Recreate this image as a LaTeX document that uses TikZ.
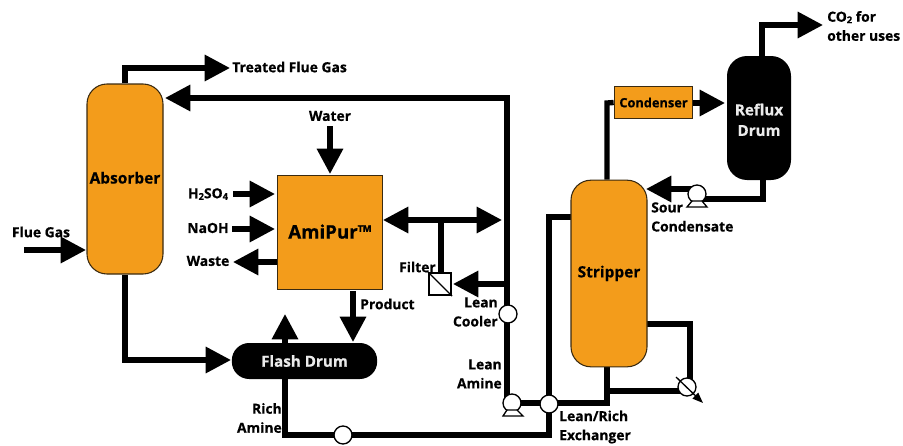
\documentclass[tikz,border=0pt]{standalone}
\usepackage{fontspec}
\setmainfont{Open Sans}[BoldFeatures={FakeBold=0.6}]
\usetikzlibrary{arrows.meta,backgrounds}
\definecolor{vessel}{HTML}{F39C1B}
\definecolor{edgeb}{HTML}{3A2A10}
\newcommand{\lowdigit}[1]{\raisebox{-0.2ex}{\fontsize{7}{7}\selectfont #1}}
\tikzset{
  lbl/.style={font=\fontsize{10.4}{14.3}\selectfont\bfseries, text=black, inner sep=0pt, align=center},
  vesselbox/.style={draw=edgeb, line width=0.8pt, fill=vessel, inner sep=0pt, font=\fontsize{11.6}{13}\selectfont\bfseries, text=black, anchor=center},
  drum/.style={fill=black, inner sep=0pt, text=white!92!black, align=center, font=\fontsize{11.4}{15.5}\selectfont\bfseries},
  pipe/.style={line width=4pt, draw=black, line join=miter},
  flow/.style={pipe, -{Triangle[length=19pt, width=19pt]}},
  flowback/.style={pipe, {Triangle[length=19pt, width=19pt]}-{Triangle[length=19pt, width=19pt]}},
  exch/.style={circle, draw=black, line width=1pt, fill=white, minimum size=13.5pt, inner sep=0pt},
}
\begin{document}
\begin{tikzpicture}[x=0.75pt,y=-0.75pt]
\useasboundingbox (0,0) rectangle (903,446);
% vessels
\node[vesselbox, rounded corners=15pt, minimum width=57pt, minimum height=142.5pt] (absorber) at (125,179) {\raisebox{2pt}{Absorber}};
\node[vesselbox, minimum width=79pt, minimum height=86pt, font=\fontsize{14}{15}\selectfont\bfseries] (amipur) at (330,232.5) {\raisebox{1.5pt}{AmiPur™}};
\node[drum, rounded corners=13pt, minimum width=109pt, minimum height=27pt] (flash) at (304.5,361) {Flash Drum};
\node[vesselbox, rounded corners=15pt, minimum width=57pt, minimum height=140pt] (stripper) at (609,273.5) {\raisebox{3pt}{Stripper}};
\node[vesselbox, minimum width=59pt, minimum height=24.5pt, font=\fontsize{9.6}{11}\selectfont\bfseries] (condenser) at (653.5,102.5) {Condenser};
\node[drum, rounded corners=15pt, minimum width=48pt, minimum height=93pt] (reflux) at (759,118) {\rule{0pt}{11.5pt}Reflux\\Drum};
% exchangers and pumps
\node[exch] (cooler) at (508,314) {};
\node[exch] (leanrich) at (549,404) {};
\node[exch] (richx) at (343,435) {};
\node[exch] (reboil) at (687,387) {};
\node[exch] (leanpump) at (512,403) {};
\node[exch] (sourpump) at (697,194) {};
% filter
\node[draw=black, line width=1.6pt, fill=white, minimum size=16.5pt, inner sep=0pt] (filter) at (440,284) {};
\draw[line width=1pt] (filter.north west) -- (filter.south east);
% pump bases
\draw[line width=1pt, fill=white] (503,416) -- (507,410) -- (517,410) -- (523,416) -- cycle;
\draw[line width=1pt, fill=white] (687,207) -- (692,201) -- (702,201) -- (707,207) -- cycle;
% reboiler stem
\coordinate (rbA) at (676,377);
\coordinate (rbB) at (703,403);
\draw[line width=1pt, -{Triangle[length=8pt,width=6pt]}] (rbA) -- (rbB);
% free ends and bends
\coordinate (fluein) at (24,250);
\coordinate (fluetip) at (86,250);
\coordinate (tgA) at (125,68);
\coordinate (tgtip) at (230,68);
\coordinate (retA) at (507,98);
\coordinate (rettip) at (165,98);
\coordinate (watertop) at (330,126);
\coordinate (watertip) at (330,174);
\coordinate (acidin) at (233,194);
\coordinate (acidtip) at (275,194);
\coordinate (naohin) at (232,229);
\coordinate (naohtip) at (275,229);
\coordinate (wastefrom) at (277,262);
\coordinate (wastetip) at (233,262);
\coordinate (dblL) at (383,220);
\coordinate (dblR) at (502,220);
\coordinate (stem) at (441,220);
\coordinate (filtfrom) at (507,284);
\coordinate (filttip) at (453,284);
\coordinate (absbot) at (125,360);
\coordinate (abstip) at (231,360);
\coordinate (prodfrom) at (353,291);
\coordinate (prodtip) at (353,342);
\coordinate (flashup) at (285,343);
\coordinate (flashtip) at (285,314);
\coordinate (richC) at (549,435);
\coordinate (richD) at (549,217);
\coordinate (richE) at (571,217);
\coordinate (stripBot) at (607,403);
\coordinate (reA) at (647,324);
\coordinate (reB) at (690,324);
\coordinate (reC) at (607,391);
\coordinate (reD) at (680,391);
\coordinate (topA) at (607,103);
\coordinate (condE) at (693,103);
\coordinate (condtip) at (725,103);
\coordinate (refA) at (762,25);
\coordinate (reftip) at (823,25);
\coordinate (refB) at (763,199);
\coordinate (sourtip) at (646,189);
\begin{scope}[on background layer]
\draw[flow] (absorber.north) -- (tgA) -- (tgtip);
\draw[flow] (fluein) -- (fluetip);
\draw[flow] (leanpump.center -| retA) -- (retA) -- (rettip);
\draw[flow] (watertop) -- (watertip);
\draw[flow] (acidin) -- (acidtip);
\draw[flow] (naohin) -- (naohtip);
\draw[flow] (wastefrom) -- (wastetip);
\draw[flowback] (dblL) -- (dblR);
\draw[pipe] (stem) -- (stem |- filter.north);
\draw[flow] (filtfrom) -- (filttip);
\draw[flow] (absorber.south) -- (absbot) -- (abstip);
\draw[flow] (prodfrom) -- (prodtip);
\draw[flow] (flashup) -- (flashtip);
\draw[pipe] (flashup) -- (flashup |- richx.center) -- (richx.center) -- (richC) -- (richD) -- (richE);
\draw[pipe] (leanpump.center) -- (stripBot) -- (stripBot |- stripper.south);
\draw[pipe] (reA) -- (reB) -- (reB |- reboil.center);
\draw[pipe] (reC) -- (reD);
\draw[pipe] (topA |- stripper.north) -- (topA) -- (condenser.west);
\draw[flow] (condE) -- (condtip);
\draw[flow] (refA |- reflux.north) -- (refA) -- (reftip);
\draw[pipe] (refB |- reflux.south) -- (refB) -- (refB -| sourpump.center);
\draw[flow] (sourpump.center |- sourtip) -- (sourtip);
\end{scope}
% labels
\node[lbl] (t1) [anchor=west] at (232,67) {Treated Flue Gas};
\node[lbl] (t2) at (41,232) {Flue Gas};
\node[lbl] (t3) at (330,116) {Water};
\node[lbl] (t4) at (208,194) {H\lowdigit{2}SO\lowdigit{4}};
\node[lbl] (t5) at (208,228) {NaOH};
\node[lbl] (t6) at (208,261) {Waste};
\node[lbl, anchor=west] (t7) at (360,304) {Product};
\node[lbl, anchor=east] (t8) at (436,267) {Filter};
\node[lbl, align=right, anchor=east] (t9) at (498,312) {Lean\\Cooler};
\node[lbl, align=right, anchor=east] (t10) at (502,374) {Lean\\Amine};
\node[lbl, align=right, anchor=east] (t11) at (282,418) {Rich\\Amine};
\node[lbl, align=left, anchor=west] (t12) at (559,427) {Lean/Rich\\Exchanger};
\node[lbl, align=left, anchor=west] (t13) at (651,217) {Sour\\Condensate};
\node[lbl, align=left, anchor=west] (t14) at (827,26) {CO\lowdigit{2} for\\other uses};
\end{tikzpicture}
\end{document}
